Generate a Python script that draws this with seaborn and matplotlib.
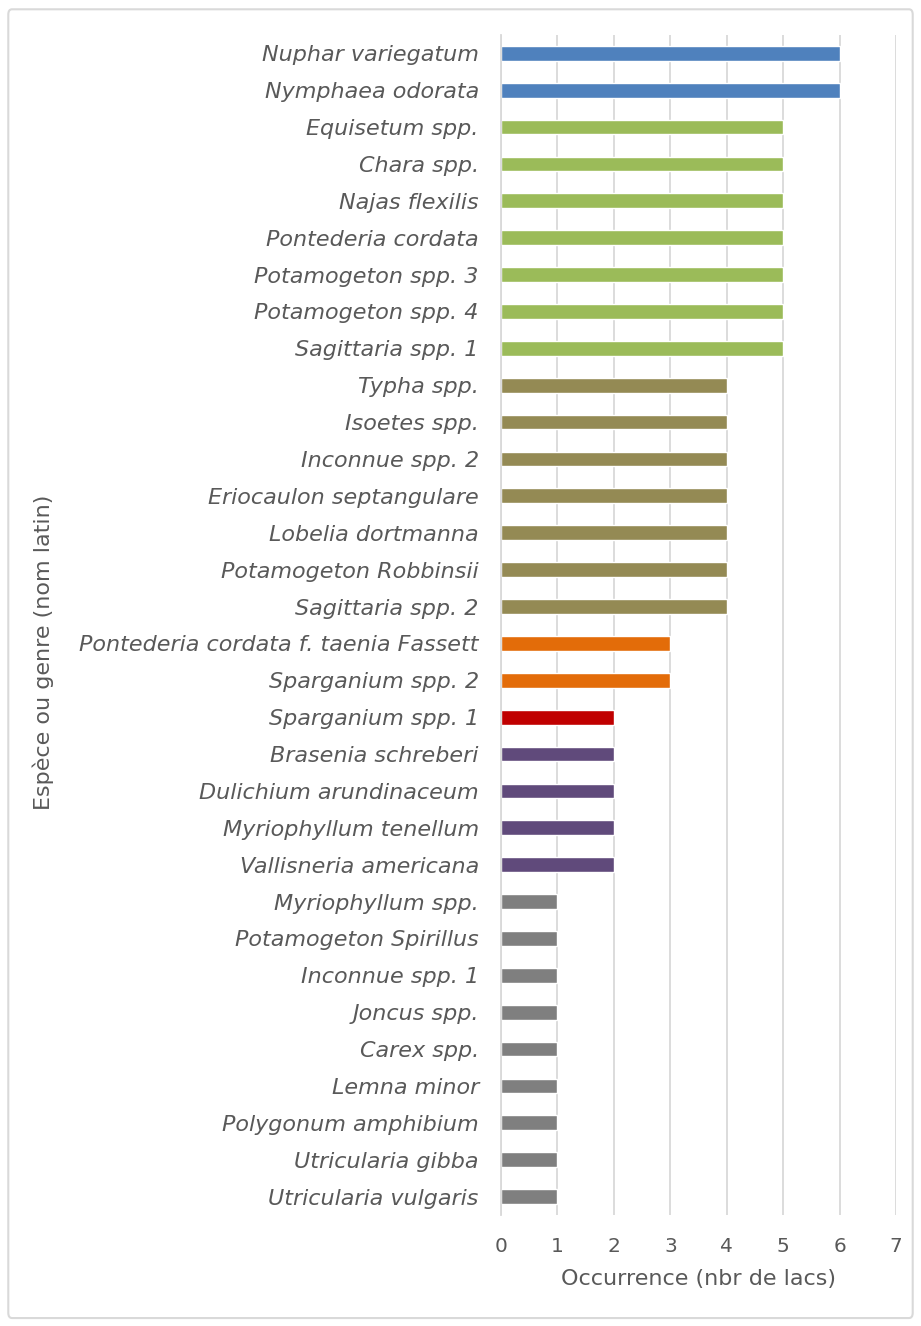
import seaborn as sb
import numpy as np
import pandas as pd
import matplotlib.pyplot as plt
from matplotlib.patches import FancyBboxPatch

species = [
    "Nuphar variegatum", "Nymphaea odorata", "Equisetum spp.", "Chara spp.",
    "Najas flexilis", "Pontederia cordata", "Potamogeton spp. 3",
    "Potamogeton spp. 4", "Sagittaria spp. 1", "Typha spp.", "Isoetes spp.",
    "Inconnue spp. 2", "Eriocaulon septangulare", "Lobelia dortmanna",
    "Potamogeton Robbinsii", "Sagittaria spp. 2",
    "Pontederia cordata f. taenia Fassett", "Sparganium spp. 2",
    "Sparganium spp. 1", "Brasenia schreberi", "Dulichium arundinaceum",
    "Myriophyllum tenellum", "Vallisneria americana", "Myriophyllum spp.",
    "Potamogeton Spirillus", "Inconnue spp. 1", "Joncus spp.", "Carex spp.",
    "Lemna minor", "Polygonum amphibium", "Utricularia gibba",
    "Utricularia vulgaris",
]
occurrence = [6, 6, 5, 5, 5, 5, 5, 5, 5, 4, 4, 4, 4, 4, 4, 4, 3, 3,
              2, 2, 2, 2, 2, 1, 1, 1, 1, 1, 1, 1, 1, 1]
bar_colors = ["#4F81BD"] * 2 + ["#9BBB59"] * 7 + ["#948A54"] * 7 + \
             ["#E36C09"] * 2 + ["#C00000"] + ["#604A7B"] * 4 + ["#7F7F7F"] * 9
x_ticks = [0, 1, 2, 3, 4, 5, 6, 7]

df = pd.DataFrame({"espece": species, "occ": occurrence})

sb.set_style("white")
plt.rcParams['font.family'] = ['DejaVu Sans']
txt = "#595959"

fig = plt.figure(figsize=(9.21, 13.26), dpi=100)
ax = fig.add_axes([0.544, 0.0837, 0.429, 0.89])

sb.barplot(data=df, x="occ", y="espece", hue="espece", palette=bar_colors,
           legend=False, width=0.4, ax=ax, orient="h", saturation=1)

ax.set_xlim(0, 7)
ax.set_ylim(len(species) - 0.5, -0.5)
ax.set_xticks(x_ticks)
ax.xaxis.grid(True, color="#D9D9D9", linewidth=1.3)
ax.set_axisbelow(True)
for s in ["top", "right", "bottom"]:
    ax.spines[s].set_visible(False)
ax.spines["left"].set_color("#D9D9D9")
ax.spines["left"].set_linewidth(1.3)

ax.set_yticks(np.arange(len(species)) - 0.5, minor=True)
ax.tick_params(axis="y", which="major", length=0, pad=16)
ax.tick_params(axis="y", which="minor", length=4, color="#D9D9D9", width=1.3)
ax.tick_params(axis="x", length=0, pad=16, labelsize=14.5, labelcolor=txt)
for lab in ax.get_yticklabels():
    lab.set_fontstyle("italic")
    lab.set_fontsize(16)
    lab.set_color(txt)

ax.set_xlabel("Occurrence (nbr de lacs)", fontsize=16, color=txt, labelpad=9)
ax.set_ylabel("")
fig.text(0.047, 0.508, "Espèce ou genre (nom latin)", rotation=90,
         ha="center", va="center", fontsize=16, color=txt)

frame = FancyBboxPatch((0.009, 0.006), 0.982, 0.987, transform=fig.transFigure,
                       boxstyle="round,pad=0,rounding_size=0.004",
                       facecolor="none", edgecolor="#D9D9D9", linewidth=1.5)
fig.patches.append(frame)

fig.savefig("out.png", dpi=100)
